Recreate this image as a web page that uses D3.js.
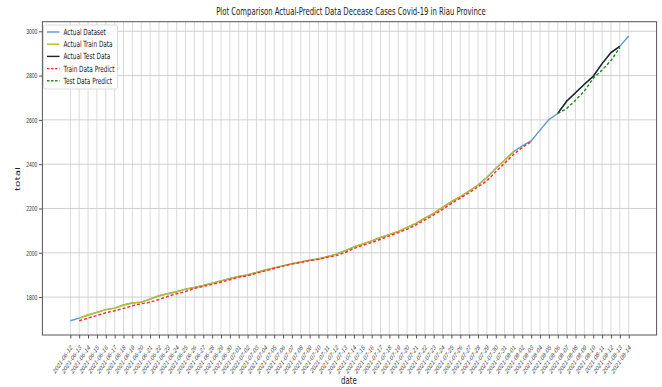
<!DOCTYPE html>
<html>
<head>
<meta charset="utf-8">
<script src="https://cdn.jsdelivr.net/npm/d3@7"></script>
<style>
  html, body { margin: 0; padding: 0; background: #fff; }
  svg { display: block; font-family: "DejaVu Sans", sans-serif; }
</style>
</head>
<body>
<svg id="chart" width="662" height="387"></svg>
<script>
// Daily dates of the series (x-axis tick labels)
const dates = [
  "2021-06-12","2021-06-13","2021-06-14","2021-06-15","2021-06-16","2021-06-17","2021-06-18","2021-06-19",
  "2021-06-20","2021-06-21","2021-06-22","2021-06-23","2021-06-24","2021-06-25","2021-06-26","2021-06-27",
  "2021-06-28","2021-06-29","2021-06-30","2021-07-01","2021-07-02","2021-07-03","2021-07-04","2021-07-05",
  "2021-07-06","2021-07-07","2021-07-08","2021-07-09","2021-07-10","2021-07-11","2021-07-12","2021-07-13",
  "2021-07-14","2021-07-15","2021-07-16","2021-07-17","2021-07-18","2021-07-19","2021-07-20","2021-07-21",
  "2021-07-22","2021-07-23","2021-07-24","2021-07-25","2021-07-26","2021-07-27","2021-07-28","2021-07-29",
  "2021-07-30","2021-07-31","2021-08-01","2021-08-02","2021-08-03","2021-08-04","2021-08-05","2021-08-06",
  "2021-08-07","2021-08-08","2021-08-09","2021-08-10","2021-08-11","2021-08-12","2021-08-13","2021-08-14"
];

// Cumulative deaths, whole dataset
const actualDataset = [
  1693,1705,1719,1731,1743,1750,1764,1773,1777,1791,
  1806,1815,1824,1836,1843,1852,1863,1873,1884,1893,
  1900,1911,1922,1932,1941,1951,1959,1967,1972,1982,
  1994,2009,2026,2040,2054,2069,2082,2097,2115,2133,
  2156,2178,2205,2231,2253,2279,2306,2340,2381,2418,
  2456,2483,2505,2554,2602,2629,2684,2722,2761,2797,
  2854,2904,2932,2979
];

// Training window (starts at day index 1)
const trainStart = 1;
const trainActual = [
  1705,1719,1731,1743,1750,1764,1773,1777,1791,
  1806,1815,1824,1836,1843,1852,1863,1873,1884,1893,
  1900,1911,1922,1932,1941,1951,1959,1967,1972,1982,
  1994,2009,2026,2040,2054,2069,2082,2097,2115,2133,
  2156,2178,2205,2231,2253,2279,2306,2340,2381,2418,
  2456
];
const trainPredict = [
  1693,1705,1717,1729,1738,1749,1761,1770,1777,1789,
  1803,1815,1825,1839,1848,1857,1868,1878,1890,1896,
  1908,1918,1929,1940,1949,1956,1965,1971,1980,1987,
  2001,2019,2034,2046,2061,2076,2091,2106,2126,2148,
  2171,2196,2223,2247,2271,2298,2325,2366,2404,2444,
  2476,2501
];

// Test window (starts at day index 55)
const testStart = 55;
const testActual  = [2629,2684,2722,2761,2797,2854,2904,2932];
const testPredict = [2629,2651,2689,2730,2788,2825,2868,2926];

const yTicks = [1800, 2000, 2200, 2400, 2600, 2800, 3000];

const series = [
  { name: "Actual Dataset",     start: 0,          values: actualDataset, color: "#5b9bd0", dash: null },
  { name: "Actual Train Data",  start: trainStart, values: trainActual,   color: "#bcbd22", dash: null },
  { name: "Actual Test Data",   start: testStart,  values: testActual,    color: "#222222", dash: null },
  { name: "Train Data Predict", start: trainStart, values: trainPredict,  color: "#ff2a2a", dash: "3,2" },
  { name: "Test Data Predict",  start: testStart,  values: testPredict,   color: "#1a8a1a", dash: "3,2" }
];

// The figure is drawn horizontally compressed
const SX = 0.67;
const plot = { left: 42.4, right: 656.6, top: 21.7, bottom: 335 };

const svg = d3.select("#chart");

const n = dates.length;
const xPad = (n - 1) * 0.05;
const x = d3.scaleLinear().domain([-xPad, n - 1 + xPad]).range([plot.left, plot.right]);

const allVals = series.flatMap(s => s.values);
const yMin = d3.min(allVals), yMax = d3.max(allVals);
const yPad = (yMax - yMin) * 0.05;
const y = d3.scaleLinear().domain([yMin - yPad, yMax + yPad]).range([plot.bottom, plot.top]);

// Grid
const grid = svg.append("g");
grid.selectAll("line.v").data(d3.range(n)).join("line")
  .attr("x1", i => x(i)).attr("x2", i => x(i))
  .attr("y1", plot.top).attr("y2", plot.bottom)
  .attr("stroke", "#d6d6d6").attr("stroke-width", 0.9);
grid.selectAll("line.h").data(yTicks).join("line")
  .attr("x1", plot.left).attr("x2", plot.right)
  .attr("y1", d => y(d)).attr("y2", d => y(d))
  .attr("stroke", "#cccccc").attr("stroke-width", 0.9);

// Lines
const line = d3.line().x(d => x(d.i)).y(d => y(d.v));
series.forEach(s => {
  const pts = s.values.map((v, k) => ({ i: s.start + k, v }));
  svg.append("path")
    .datum(pts)
    .attr("d", line)
    .attr("fill", "none")
    .attr("stroke", s.color)
    .attr("stroke-width", 1.4)
    .attr("stroke-dasharray", s.dash);
});

// Frame
svg.append("rect")
  .attr("x", plot.left).attr("y", plot.top)
  .attr("width", plot.right - plot.left).attr("height", plot.bottom - plot.top)
  .attr("fill", "none").attr("stroke", "#555").attr("stroke-width", 1);

// Y axis
const yAxis = svg.append("g")
  .attr("transform", `translate(${plot.left},0)`)
  .call(d3.axisLeft(y).tickValues(yTicks).tickSize(3.5).tickPadding(4).tickFormat(d3.format("d")));
yAxis.select(".domain").remove();
yAxis.selectAll(".tick line").attr("stroke", "#555");
yAxis.selectAll(".tick text")
  .attr("font-size", 7.5).attr("fill", "#333")
  .attr("transform", `scale(${SX},1)`);

// X axis
const xAxis = svg.append("g")
  .attr("transform", `translate(0,${plot.bottom})`)
  .call(d3.axisBottom(x).tickValues(d3.range(n)).tickSize(3.5).tickFormat(i => dates[i]));
xAxis.select(".domain").remove();
xAxis.selectAll(".tick line").attr("stroke", "#555");
xAxis.selectAll(".tick text")
  .attr("font-size", 7.3).attr("fill", "#444")
  .attr("text-anchor", "end")
  .attr("x", 0).attr("y", 0).attr("dy", "0.35em")
  .attr("transform", `scale(${SX},1) translate(1,11) rotate(-45)`);

// Title and axis labels
svg.append("text")
  .attr("transform", `translate(351,15) scale(${SX},1)`)
  .attr("text-anchor", "middle").attr("font-size", 10.3).attr("fill", "#222")
  .text("Plot Comparison Actual-Predict Data Decease Cases Covid-19 in Riau Province");
svg.append("text")
  .attr("transform", `translate(349,384) scale(${SX},1)`)
  .attr("text-anchor", "middle").attr("font-size", 10.5).attr("fill", "#222")
  .text("date");
svg.append("text")
  .attr("transform", `translate(20,179) scale(${SX},1) rotate(-90)`)
  .attr("text-anchor", "middle").attr("font-size", 10.5).attr("fill", "#222")
  .text("total");

// Legend
const lg = svg.append("g").attr("transform", "translate(43.5,25)");
lg.append("rect").attr("width", 74).attr("height", 64).attr("rx", 2)
  .attr("fill", "#fff").attr("fill-opacity", 0.85).attr("stroke", "#ddd");
series.forEach((s, k) => {
  const yy = 7 + k * 12.2;
  lg.append("line").attr("x1", 3.5).attr("x2", 16).attr("y1", yy).attr("y2", yy)
    .attr("stroke", s.color).attr("stroke-width", 1.4).attr("stroke-dasharray", s.dash ? "2.5,1.5" : null);
  lg.append("text")
    .attr("transform", `translate(20,${yy + 3}) scale(${SX},1)`)
    .attr("font-size", 8.6).attr("fill", "#222")
    .text(s.name);
});
</script>
</body>
</html>
